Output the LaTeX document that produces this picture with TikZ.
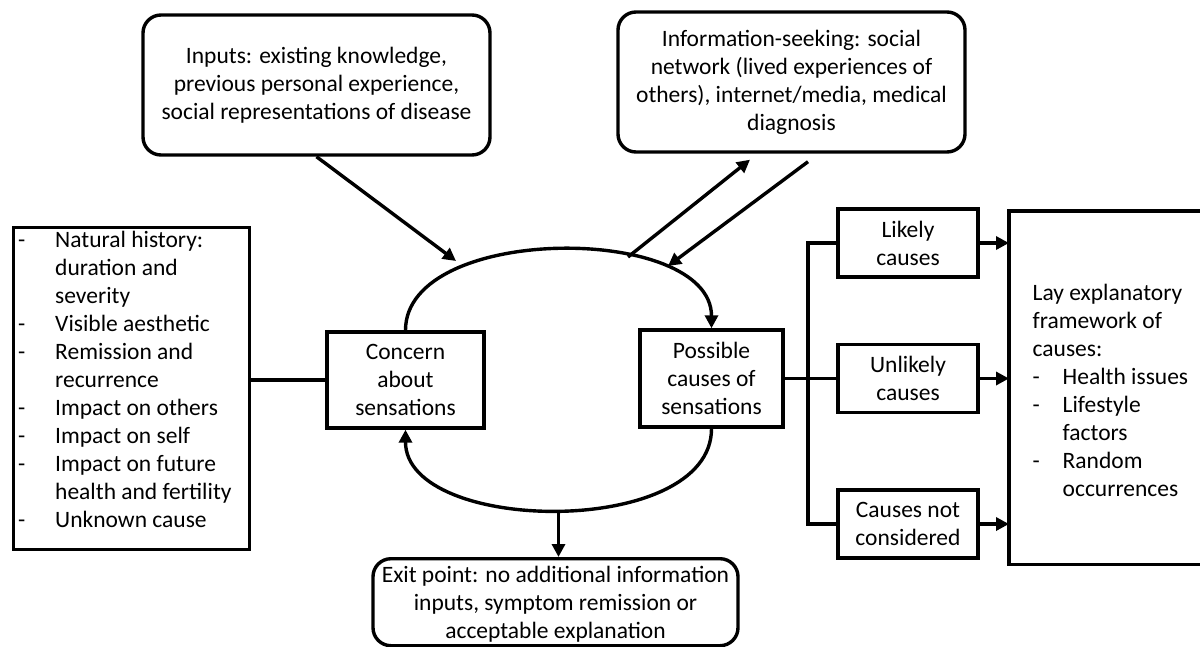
\documentclass[tikz,border=0pt]{standalone}
\usepackage{fontspec}
\setmainfont{Carlito}
\usetikzlibrary{arrows.meta}

\begin{document}
\begin{tikzpicture}[x=1pt, y=-1pt, line width=3.4pt,
                        font={\fontsize{23.5}{28}\selectfont},
                        box/.style={draw, align=center, inner sep=0pt},
                        rbox/.style={box, rounded corners=18pt},
                        arr/.style={-{Triangle[length=13pt,width=13pt]}}]
                        \useasboundingbox (0,0) rectangle (1200,646);

                        % sources of information
                        \node (inputs) at (316.5,85) [rbox, minimum width=347pt, minimum height=140pt]
                            {Inputs: existing knowledge,\\previous personal experience,\\social representations of disease};
                        \node (info) at (791.5,82) [rbox, minimum width=347pt, minimum height=140pt]
                            {Information-seeking: social\\network (lived experiences of\\others), internet/media, medical\\diagnosis};

                        % the loop
                        \node (concern) at (405.5,380) [box, minimum width=157pt, minimum height=96pt] {Concern\\about\\sensations};
                        \node (possible) at (711.5,378.5) [box, minimum width=143pt, minimum height=97pt] {Possible\\causes of\\sensations};
                        \node (exit) at (555.5,557) [rbox, anchor=north, minimum width=365pt, text height=24pt, text depth=63pt]
                            {\begin{tabular}[t]{@{}c@{}}
                                Exit point: no additional information\\
                                inputs, symptom remission or\\
                                acceptable explanation
                            \end{tabular}};

                        \node (list) at (12,226) [anchor=north west, draw, inner xsep=4.5pt, inner ysep=0pt, text height=20pt, text depth=302pt]
                            {\begin{tabular}[t]{@{}p{37pt}@{}p{190pt}@{}}
                                - & Natural history:\\ & duration and\\ & severity\\
                                - & Visible aesthetic\\
                                - & Remission and\\ & recurrence\\
                                - & Impact on others\\
                                - & Impact on self\\
                                - & Impact on future\\ & health and fertility\\
                                - & Unknown cause
                            \end{tabular}};

                        \foreach \k/\j/\t in {likely/243/{Likely\\causes}, unlikely/378.5/{Unlikely\\causes}, notcons/524/{Causes not\\considered}} {
                            \node (\k) at (908,\j) [box, minimum width=140pt, minimum height=68pt] {\t};
                        }

                        \node (lay) at (1009,211) [anchor=north west, inner xsep=22pt, inner ysep=0pt, text height=88pt, text depth=262pt]
                            {\begin{tabular}[t]{@{}p{30pt}@{}l@{}}
                                \multicolumn{2}{@{}l@{}}{Lay explanatory}\\
                                \multicolumn{2}{@{}l@{}}{framework of}\\
                                \multicolumn{2}{@{}l@{}}{causes:}\\
                                - & Health issues\\
                                - & Lifestyle\\
                                  & factors\\
                                - & Random\\
                                  & occurrences
                            \end{tabular}};

                        \coordinate (intip) at (456,261);
                        \coordinate (upfoot) at (628,257);
                        \coordinate (uptip) at ([shift={(-41.5,6)}]info.south);
                        \coordinate (dnfoot) at ([shift={(16.5,8)}]info.south);
                        \coordinate (dntip) at (668,266);
                        \coordinate (bus) at (808,378.5);
                        \coordinate (edge) at (1202,0);

                        \draw[arr] (concern.north) .. controls +(0,-107) and +(0,-105) .. (possible.north);
                        \draw[arr] (possible.south) .. controls +(0,110) and +(0,105) .. (concern.south) coordinate[pos=0.5] (loop);
                        \draw[arr] (loop) -- (loop |- exit.north);
                        \draw[arr] (inputs.south) -- (intip);
                        \draw[arr] (upfoot) -- (uptip);
                        \draw[arr] (dnfoot) -- (dntip);

                        \draw (list.east |- concern.west) -- (concern.west);
                        \draw (possible.east) -- (bus);
                        \draw (likely.west) -| (bus);
                        \draw (notcons.west) -| (bus);
                        \draw (unlikely.west) -- (bus);
                        \foreach \k in {likely, unlikely, notcons} {
                            \draw[arr] (\k.east) -- (\k.east -| lay.west);
                        }
                        \draw (lay.north west -| edge) -- (lay.north west) -- (lay.south west) -- (lay.south west -| edge);
                    \end{tikzpicture}
\end{document}
